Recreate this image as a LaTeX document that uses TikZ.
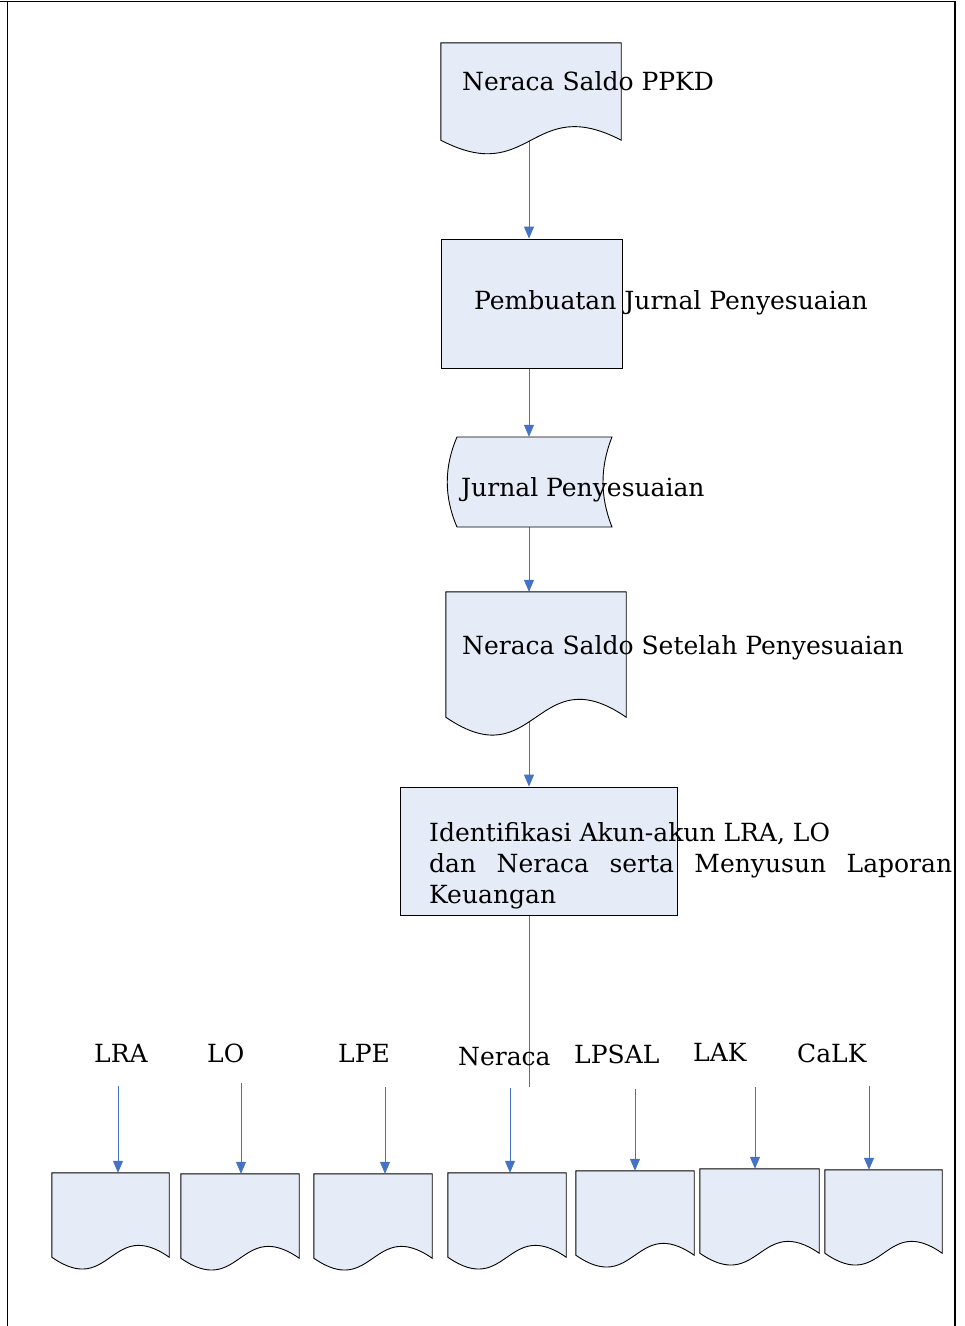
\documentclass[tikz,border=0pt]{standalone}
\usepackage{fontspec}
\setmainfont{DejaVu Serif}
\usetikzlibrary{arrows.meta,calc}
\definecolor{shapefill}{HTML}{E6ECF7}
\definecolor{flowblue}{HTML}{4472C4}
\tikzset{
  box/.style={draw=black, line width=0.9pt, fill=shapefill, rectangle, inner sep=0pt},
  area/.style={rectangle, inner sep=0pt, draw=none},
  outline/.style={draw=black, line width=0.9pt, fill=shapefill},
  lbl/.style={anchor=base west, inner sep=0pt, font=\fontsize{25}{29}\selectfont},
  flow/.style={draw=flowblue, line width=1pt, -{Triangle[width=10pt,length=12pt]}},
  link/.style={draw=flowblue, line width=1pt},
  frame/.style={draw=black, line width=1.2pt},
}
% document symbol: flat top, straight sides, wavy bottom edge
\newcommand\docpath[2]{%
  \path[outline] (#1.north west) -- (#1.north east) -- (#1.south east)
    .. controls ($(#1.south)+(0,-#2)$) and ($(#1.south)+(0,#2)$) .. (#1.south west) -- cycle;}
\begin{document}
\begin{tikzpicture}[x=1pt,y=-1pt]
\useasboundingbox (0,0) rectangle (965,1326);
% page frame (open at the bottom)
\draw[frame] (7.5,1326) -- (7.5,1.5);
\draw[frame] (0,1.5) -- (955,1.5) -- (955,1326);

% --- shape areas
\node[area, minimum width=180pt, minimum height=97pt] (d1) at (531,91.5) {};
\node[box, minimum width=181pt, minimum height=129pt] (p1) at (531.5,303.5) {};
\node[area, minimum width=165pt, minimum height=90pt] (s1) at (529.5,482) {};
\node[area, minimum width=180pt, minimum height=125pt] (d2) at (536,654.5) {};
\node[box, minimum width=277pt, minimum height=128pt] (p2) at (538.5,851) {};
\node[area, minimum width=117pt, minimum height=84pt] (b1) at (110.5,1215) {};
\node[area, minimum width=118pt, minimum height=84pt] (b2) at (240,1216) {};
\node[area, minimum width=118pt, minimum height=84pt] (b3) at (373,1216) {};
\node[area, minimum width=118pt, minimum height=84pt] (b4) at (507,1215) {};
\node[area, minimum width=118pt, minimum height=84pt] (b5) at (635,1213) {};
\node[area, minimum width=119pt, minimum height=84pt] (b6) at (759.5,1211) {};
\node[area, minimum width=117pt, minimum height=83pt] (b7) at (883.5,1211.5) {};

% --- connectors along the main spine
\coordinate (spine) at (529,0);
\coordinate (spineend) at (529,1087);
\draw[flow] (spine |- d1.south) -- (spine |- p1.north);
\draw[flow] (spine |- p1.south) -- (spine |- s1.north);
\draw[flow] (spine |- s1.south) -- (spine |- d2.north);
\draw[flow] (spine |- d2.south) -- (spine |- p2.north);
\draw[link] (spine |- p2.south) -- (spineend);

% --- shapes
\docpath{d1}{47}
\docpath{d2}{62}
\path[outline] (457,437) -- (612,437)
  .. controls (600,467) and (600,497) .. (612,527) -- (457,527)
  .. controls (444,497) and (444,467) .. (457,437) -- cycle;
\node[box, minimum width=181pt, minimum height=129pt] at (p1) {};
\node[box, minimum width=277pt, minimum height=128pt] at (p2) {};
\foreach \b in {b1,b2,b3,b4,b5,b6,b7}{\docpath{\b}{41}}

% --- texts
\node[lbl] (t1) at (462,90) {Neraca Saldo PPKD};
\node[lbl] (t2) at (474,309) {Pembuatan Jurnal Penyesuaian};
\node[lbl] (t3) at (461,496) {Jurnal Penyesuaian};
\node[lbl] (t4) at (462,654) {Neraca Saldo Setelah Penyesuaian};
\node[lbl] (t5a) at (429,841) {Identifikasi Akun-akun LRA, LO};
\node[lbl] (t5b) at (429,872) {\makebox[523pt][l]{dan\hfill Neraca\hfill serta\hfill Menyusun\hfill Laporan}};
\node[lbl] (t5c) at (429,903) {Keuangan};

% --- report labels and their arrows
\node[lbl] (l1) at (94,1062) {LRA};
\node[lbl] (l2) at (207,1062) {LO};
\node[lbl] (l3) at (338,1062) {LPE};
\node[lbl] (l4) at (458,1065) {Neraca};
\node[lbl] (l5) at (574,1063) {LPSAL};
\node[lbl] (l6) at (693,1061) {LAK};
\node[lbl] (l7) at (797,1062) {CaLK};
\coordinate (a1) at (118,1086);
\coordinate (a2) at (241,1083);
\coordinate (a3) at (385,1087);
\coordinate (a4) at (510,1088);
\coordinate (a5) at (635,1089);
\coordinate (a6) at (755,1087);
\coordinate (a7) at (869,1086);
\foreach \i in {1,...,7}{\draw[flow] (a\i) -- (a\i |- b\i.north);}
\end{tikzpicture}
\end{document}
